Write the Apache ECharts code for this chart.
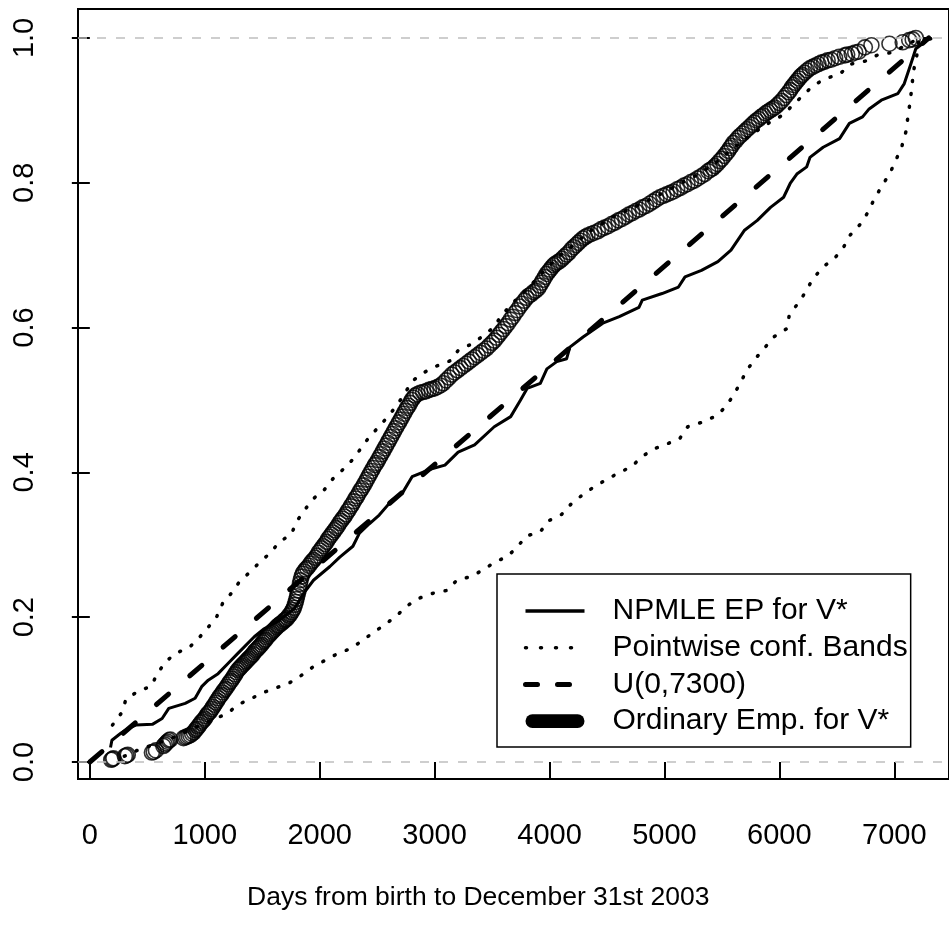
<!DOCTYPE html>
<html>
<head>
<meta charset="utf-8">
<script src="https://cdn.jsdelivr.net/npm/echarts@6/dist/echarts.min.js"></script>
<style>
html, body { margin: 0; padding: 0; background: #fff; }
#main { width: 949px; height: 925px; }
</style>
</head>
<body>
<div id="main"></div>
<script>
// tick positions
var xTicks = [0, 1000, 2000, 3000, 4000, 5000, 6000, 7000];
var yTicks = [0, 0.2, 0.4, 0.6, 0.8, 1.0];

// NPMLE EP for V*  (solid)
var npmle = [[180,0.020],[192,0.030],[272,0.040],[329,0.046],[401,0.051],[544,0.052],[629,0.060],[687,0.074],
  [830,0.081],[916,0.088],[973,0.104],[1030,0.113],[1116,0.122],[1202,0.136],[1288,0.150],[1431,0.173],
  [1517,0.184],[1650,0.196],[1780,0.212],[1870,0.235],[1946,0.251],[2089,0.270],[2175,0.283],[2289,0.298],
  [2346,0.316],[2432,0.329],[2518,0.341],[2632,0.362],[2718,0.371],[2804,0.394],[2976,0.405],[3090,0.410],
  [3205,0.428],[3348,0.438],[3519,0.463],[3662,0.477],[3748,0.500],[3805,0.516],[3920,0.523],[3977,0.543],
  [4063,0.553],[4149,0.557],[4177,0.573],[4292,0.587],[4464,0.606],[4607,0.615],[4778,0.628],[4807,0.638],
  [4979,0.647],[5122,0.656],[5179,0.670],[5322,0.679],[5465,0.691],[5579,0.707],[5694,0.734],[5808,0.748],
  [5923,0.766],[6037,0.780],[6094,0.799],[6152,0.812],[6238,0.822],[6266,0.835],[6381,0.849],[6524,0.861],
  [6609,0.882],[6724,0.891],[6781,0.902],[6887,0.914],[7030,0.923],[7087,0.937],[7144,0.964],[7187,0.985],
  [7288,0.997]];

// pointwise confidence bands (dotted)
var upperBand = [[197,0.051],[277,0.068],[315,0.087],[415,0.097],[535,0.105],[587,0.122],[658,0.138],[744,0.150],
  [864,0.158],[953,0.172],[1030,0.186],[1105,0.201],[1155,0.219],[1236,0.234],[1302,0.249],[1391,0.262],
  [1479,0.276],[1573,0.289],[1648,0.304],[1751,0.314],[1803,0.333],[1869,0.348],[1940,0.363],[2040,0.376],
  [2114,0.391],[2203,0.404],[2289,0.418],[2363,0.434],[2432,0.449],[2515,0.463],[2598,0.478],[2673,0.493],
  [2740,0.509],[2804,0.526],[2908,0.538],[3020,0.547],[3133,0.554],[3208,0.569],[3319,0.577],[3418,0.588],
  [3519,0.601],[3582,0.617],[3700,0.637],[3828,0.657],[3950,0.678],[4077,0.698],[4177,0.710],[4360,0.734],
  [4575,0.755],[4693,0.763],[4850,0.775],[5000,0.787],[5150,0.800],[5300,0.812],[5450,0.828],[5600,0.848],
  [5750,0.866],[5931,0.885],[6037,0.894],[6120,0.908],[6209,0.921],[6292,0.934],[6404,0.944],[6524,0.950],
  [6624,0.964],[6747,0.968],[6861,0.977],[6987,0.980],[7100,0.990],[7200,0.998],[7353,1.0]];

var lowerBand = [[300,0.008],[412,0.016],[700,0.032],[950,0.050],[1196,0.067],[1288,0.079],[1396,0.087],[1511,0.096],
  [1631,0.103],[1745,0.110],[1845,0.120],[1940,0.131],[2054,0.141],[2160,0.150],[2276,0.157],[2373,0.168],
  [2470,0.179],[2569,0.190],[2670,0.202],[2755,0.215],[2861,0.226],[2985,0.233],[3110,0.237],[3193,0.251],
  [3313,0.256],[3419,0.265],[3525,0.276],[3634,0.284],[3720,0.297],[3797,0.312],[3920,0.318],[3991,0.333],
  [4106,0.342],[4186,0.356],[4280,0.368],[4378,0.379],[4484,0.389],[4598,0.399],[4715,0.408],[4798,0.421],
  [4901,0.432],[5016,0.439],[5130,0.446],[5202,0.463],[5322,0.469],[5436,0.477],[5525,0.489],[5594,0.505],
  [5659,0.523],[5716,0.541],[5791,0.557],[5872,0.572],[5950,0.587],[6060,0.598],[6088,0.618],[6165,0.634],
  [6232,0.650],[6289,0.667],[6382,0.684],[6476,0.695],[6555,0.710],[6617,0.728],[6700,0.742],[6766,0.758],
  [6824,0.777],[6890,0.795],[6961,0.813],[7016,0.832],[7067,0.851],[7102,0.871],[7119,0.892],[7139,0.913],
  [7153,0.933],[7167,0.954],[7196,0.976],[7210,0.995],[7353,1.0]];

// U(0,7300) (dashed)
var uniform = [[0,0],[7300,1]];

// ordinary empirical distribution (open circles)
var empirical = [[186,0.003],[196,0.004],[205,0.005],[305,0.008],[318,0.009],[330,0.010],[540,0.013],[556,0.014],
  [575,0.016],[640,0.022],[652,0.024],[664,0.026],[676,0.028],[688,0.030],[700,0.031],[815,0.033],[830,0.034],
  [845,0.035],[860,0.036],[875,0.037],[890,0.039],[905,0.041],[918,0.044],[930,0.046],[942,0.049],[954,0.051],
  [966,0.054],[978,0.056],[990,0.058],
  [1000,0.060],[1012,0.063],[1024,0.066],[1036,0.068],[1048,0.070],[1060,0.073],[1072,0.076],[1084,0.079],
  [1096,0.082],[1108,0.085],[1120,0.088],[1132,0.091],[1144,0.093],[1156,0.096],[1168,0.099],[1180,0.101],
  [1192,0.104],[1204,0.107],[1216,0.110],[1228,0.112],[1240,0.115],[1252,0.118],[1264,0.121],[1276,0.124],
  [1288,0.127],[1300,0.129],[1312,0.131],[1324,0.133],[1336,0.135],[1348,0.137],[1360,0.139],[1372,0.141],
  [1384,0.143],[1396,0.145],[1408,0.147],[1420,0.149],[1432,0.152],[1444,0.154],[1456,0.156],[1468,0.158],
  [1480,0.160],[1492,0.162],[1504,0.165],[1516,0.167],[1528,0.169],[1540,0.172],[1552,0.174],[1564,0.176],
  [1576,0.178],[1588,0.180],[1600,0.182],[1612,0.184],[1624,0.186],[1636,0.188],[1648,0.189],[1660,0.191],
  [1672,0.192],[1684,0.194],[1696,0.196],[1708,0.197],[1720,0.199],[1732,0.202],[1744,0.204],[1756,0.207],
  [1766,0.210],[1776,0.213],[1784,0.217],[1792,0.221],[1798,0.225],[1804,0.229],[1810,0.233],[1816,0.237],
  [1822,0.241],[1828,0.246],[1834,0.251],[1842,0.256],[1852,0.260],[1864,0.263],
  [1878,0.266],[1892,0.268],[1906,0.271],[1920,0.274],[1934,0.277],[1948,0.279],[1962,0.282],[1976,0.285],
  [1990,0.289],[2004,0.292],[2018,0.295],[2032,0.298],[2046,0.301],[2060,0.304],[2074,0.308],[2088,0.311],
  [2102,0.314],[2116,0.317],[2130,0.320],[2144,0.323],[2158,0.326],[2172,0.330],[2186,0.333],[2200,0.336],
  [2214,0.339],[2228,0.342],[2242,0.346],[2256,0.349],[2270,0.353],[2284,0.356],[2298,0.360],[2312,0.364],
  [2326,0.367],[2340,0.371],[2354,0.375],[2368,0.378],[2382,0.382],[2396,0.386],[2410,0.390],[2424,0.394],
  [2438,0.398],[2452,0.402],[2466,0.406],[2480,0.410],[2494,0.413],[2508,0.417],[2522,0.421],[2536,0.425],
  [2550,0.429],[2564,0.433],[2578,0.437],[2592,0.441],[2606,0.445],[2620,0.449],[2634,0.453],[2648,0.457],
  [2662,0.461],[2676,0.465],[2690,0.469],[2704,0.473],[2718,0.477],[2732,0.481],[2746,0.485],[2760,0.489],
  [2774,0.492],[2788,0.496],[2802,0.500],[2816,0.503],[2830,0.506],
  [2850,0.508],[2875,0.510],[2900,0.511],[2925,0.512],[2950,0.514],[2975,0.515],[3000,0.516],[3025,0.518],
  [3050,0.520],[3075,0.523],[3100,0.527],[3125,0.531],[3150,0.535],[3175,0.538],[3200,0.541],[3225,0.544],
  [3250,0.547],[3275,0.550],[3300,0.553],[3325,0.556],[3350,0.559],[3375,0.562],[3400,0.565],[3425,0.568],
  [3450,0.571],[3475,0.575],[3500,0.579],
  [3520,0.582],[3540,0.586],[3560,0.590],[3580,0.594],[3600,0.598],[3620,0.602],[3640,0.606],[3660,0.611],
  [3680,0.615],[3700,0.620],[3720,0.624],[3740,0.629],[3760,0.633],[3780,0.637],[3800,0.641],[3820,0.644],
  [3840,0.646],[3860,0.649],[3880,0.651],[3900,0.654],[3915,0.658],[3930,0.662],[3945,0.666],[3960,0.670],
  [3975,0.674],[3990,0.677],[4005,0.680],[4020,0.683],[4035,0.686],[4050,0.688],[4070,0.690],[4090,0.692],
  [4110,0.695],[4130,0.698],[4150,0.701],[4170,0.704],[4190,0.708],[4210,0.711],[4230,0.714],[4250,0.717],
  [4270,0.720],[4290,0.723],[4310,0.725],[4330,0.727],
  [4360,0.729],[4390,0.731],[4420,0.733],[4450,0.736],[4480,0.738],[4510,0.740],[4540,0.743],[4570,0.745],
  [4600,0.748],[4630,0.750],[4660,0.753],[4690,0.756],[4720,0.758],[4750,0.761],[4780,0.763],[4810,0.766],
  [4840,0.768],[4870,0.771],[4900,0.774],[4930,0.777],[4960,0.780],[4990,0.782],[5020,0.784],[5050,0.786],
  [5080,0.788],[5110,0.791],[5140,0.793],[5170,0.796],[5200,0.798],[5230,0.801],[5260,0.803],[5290,0.806],
  [5320,0.809],[5350,0.812],[5380,0.816],
  [5400,0.818],[5420,0.820],[5440,0.823],[5460,0.826],[5480,0.830],[5500,0.833],[5520,0.837],[5540,0.841],
  [5555,0.844],[5570,0.848],[5585,0.851],[5600,0.855],[5620,0.858],[5640,0.862],[5660,0.865],[5680,0.868],
  [5700,0.871],[5720,0.874],[5740,0.877],[5760,0.880],[5780,0.883],[5800,0.886],[5820,0.888],[5840,0.891],
  [5860,0.893],[5880,0.896],[5900,0.898],[5920,0.900],[5940,0.902],[5960,0.904],[5980,0.907],[6000,0.910],
  [6020,0.913],[6040,0.917],[6060,0.921],[6080,0.925],[6095,0.928],[6110,0.932],[6125,0.935],[6140,0.938],
  [6155,0.941],[6170,0.944],[6185,0.947],[6200,0.949],[6220,0.952],[6240,0.955],
  [6265,0.958],[6290,0.960],[6315,0.962],[6340,0.964],[6365,0.966],[6390,0.967],[6420,0.969],[6450,0.970],
  [6485,0.972],[6520,0.974],[6570,0.976],[6590,0.977],[6630,0.978],[6660,0.980],[6690,0.981],[6744,0.987],
  [6801,0.990],[6958,0.992],[7073,0.994],[7130,0.997],[7160,0.998],[7187,1.0]];

var font = 'Liberation Sans';
var myChart = echarts.init(document.getElementById('main'));

var option = {
  animation: false,
  backgroundColor: '#fff',
  title: {
    text: 'Days from birth to December 31st 2003',
    left: 242,
    top: 879,
    textStyle: { fontFamily: font, fontSize: 26.5, fontWeight: 'normal', color: '#000' }
  },
  grid: {
    left: 78,
    top: 9,
    width: 883,
    height: 770,
    show: true,
    borderColor: '#000',
    borderWidth: 2,
    backgroundColor: 'transparent'
  },
  legend: {
    orient: 'vertical',
    left: 497,
    top: 574,
    padding: [22, 3, 11, 26],
    itemWidth: 59,
    itemHeight: 14,
    itemGap: 6.7,
    selectedMode: false,
    backgroundColor: '#fff',
    borderColor: '#000',
    borderWidth: 1.5,
    textStyle: { fontFamily: font, fontSize: 30, lineHeight: 30, color: '#000', padding: [0, 0, 0, 23] },
    data: [
      {
        name: 'NPMLE EP for V*',
        itemStyle: { opacity: 0 },
        lineStyle: { color: '#000', width: 3.5, type: 'solid' }
      },
      {
        name: 'Pointwise conf. Bands',
        itemStyle: { opacity: 0 },
        lineStyle: { color: '#000', width: 3.5, type: [1, 14], cap: 'round' }
      },
      {
        name: 'U(0,7300)',
        itemStyle: { opacity: 0 },
        lineStyle: { color: '#000', width: 5, type: [12, 20], cap: 'round' }
      },
      {
        name: 'Ordinary Emp. for V*',
        icon: 'path://M7,0 L53,0 A7,7 0 0 1 53,14 L7,14 A7,7 0 0 1 7,0 Z',
        itemStyle: { color: '#000', borderColor: '#000', borderWidth: 0, opacity: 1 }
      }
    ]
  },
  xAxis: {
    type: 'value',
    min: -103,
    max: 7476,
    axisLine: { show: false },
    splitLine: { show: false },
    axisTick: {
      show: true, inside: false, length: 18,
      customValues: xTicks,
      lineStyle: { color: '#000', width: 2 }
    },
    axisLabel: {
      customValues: xTicks,
      margin: 42,
      fontFamily: font, fontSize: 29, color: '#000',
      formatter: function (v) { return String(v); }
    }
  },
  yAxis: {
    type: 'value',
    min: -0.0235,
    max: 1.04,
    axisLine: { show: false },
    splitLine: { show: false },
    axisTick: {
      show: true, inside: false, length: 18,
      customValues: yTicks,
      lineStyle: { color: '#000', width: 2 }
    },
    axisLabel: {
      customValues: yTicks,
      rotate: 90,
      margin: 39,
      fontFamily: font, fontSize: 29, color: '#000',
      formatter: function (v) { return v.toFixed(1); }
    }
  },
  series: [
    {
      name: 'NPMLE EP for V*',
      type: 'line',
      data: npmle,
      symbol: 'none',
      lineStyle: { color: '#000', width: 3, join: 'round' },
      z: 3
    },
    {
      name: 'Pointwise conf. Bands',
      type: 'line',
      data: upperBand,
      symbol: 'none',
      lineStyle: { color: '#000', width: 3.5, type: [1, 12], cap: 'round' },
      z: 2
    },
    {
      name: 'Pointwise conf. Bands',
      type: 'line',
      data: lowerBand,
      symbol: 'none',
      lineStyle: { color: '#000', width: 3.5, type: [1, 12], cap: 'round' },
      z: 2
    },
    {
      name: 'U(0,7300)',
      type: 'line',
      data: uniform,
      symbol: 'none',
      lineStyle: { color: '#000', width: 5, type: [16, 28], cap: 'round' },
      z: 3,
      markLine: {
        silent: true,
        symbol: 'none',
        label: { show: false },
        lineStyle: { color: '#bebebe', width: 1.5, type: [9, 10] },
        data: [{ yAxis: 0 }, { yAxis: 1 }]
      }
    },
    {
      name: 'Ordinary Emp. for V*',
      type: 'scatter',
      data: empirical,
      symbol: 'circle',
      symbolSize: 15,
      itemStyle: { color: 'rgba(0,0,0,0)', borderColor: '#000', borderWidth: 1.6 },
      z: 4
    }
  ]
};

myChart.setOption(option);
</script>
</body>
</html>
